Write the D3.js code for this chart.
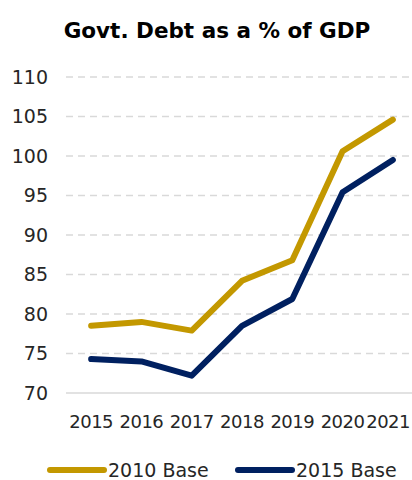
<!DOCTYPE html>
<html>
<head>
<meta charset="utf-8">
<script src="https://cdn.jsdelivr.net/npm/d3@7"></script>
<style>
  body { margin: 0; background: #fff; }
  text { font-family: "DejaVu Sans", sans-serif; fill: #262626; }
</style>
</head>
<body>
<div class="container"></div>
<script>
var years = ["2015", "2016", "2017", "2018", "2019", "2020", "2021"];
var base2010 = [78.5, 79.0, 77.9, 84.2, 86.8, 100.6, 104.6];
var base2015 = [74.3, 74.0, 72.2, 78.5, 81.9, 95.4, 99.5];
var yTicks = [70, 75, 80, 85, 90, 95, 100, 105, 110];
var seriesNames = ["2010 Base", "2015 Base"];
var seriesColors = ["#C39800", "#002060"];

var w = 412, h = 480;

function makeStage(w, h) {
	var stage = d3.select(".container")
				  .append("svg")
				  .attr("width", w)
				  .attr("height", h);
	return stage;
}

var stage = makeStage(w, h);

var x = d3.scaleBand().domain(years).range([66, 418]);
var y = d3.scaleLinear().domain([70, 110]).range([393, 77]);

// title
stage.append("text")
	 .attr("x", 217)
	 .attr("y", 38)
	 .attr("text-anchor", "middle")
	 .style("font-size", "21.5px")
	 .style("font-weight", "bold")
	 .style("fill", "#000")
	 .text("Govt. Debt as a % of GDP");

// gridlines
stage.selectAll("line.grid")
	 .data(yTicks)
	 .enter()
	 .append("line")
	 .attr("class", "grid")
	 .attr("x1", 66)
	 .attr("x2", 412)
	 .attr("y1", function (d) { return y(d); })
	 .attr("y2", function (d) { return y(d); })
	 .style("stroke", "#d9d9d9")
	 .style("stroke-width", "1.5px")
	 .style("stroke-dasharray", function (d) { return d === 70 ? null : "7,5"; });

// y axis labels
stage.selectAll("text.ytick")
	 .data(yTicks)
	 .enter()
	 .append("text")
	 .attr("class", "ytick")
	 .attr("x", 48)
	 .attr("y", function (d) { return y(d); })
	 .attr("dy", "0.36em")
	 .attr("text-anchor", "end")
	 .style("font-size", "19px")
	 .text(function (d) { return d; });

// x axis labels
stage.selectAll("text.xtick")
	 .data(years)
	 .enter()
	 .append("text")
	 .attr("class", "xtick")
	 .attr("x", function (d) { return x(d) + x.bandwidth() / 2; })
	 .attr("y", 428)
	 .attr("text-anchor", "middle")
	 .style("font-size", "18px")
	 .style("letter-spacing", "-0.5px")
	 .text(function (d) { return d; })
	 .each(function () {
		// keep the last label inside the picture
		var bb = this.getBBox();
		if (bb.x + bb.width > w - 2) {
			d3.select(this).attr("x", +d3.select(this).attr("x") - (bb.x + bb.width - (w - 2)));
		}
	 });

// lines
var line = d3.line()
	.x(function (d, i) { return x(years[i]) + x.bandwidth() / 2; })
	.y(function (d) { return y(d); });

[base2010, base2015].forEach(function (vals, i) {
	stage.append("path")
		 .datum(vals)
		 .attr("d", line)
		 .style("fill", "none")
		 .style("stroke", seriesColors[i])
		 .style("stroke-width", "6px")
		 .style("stroke-linecap", "round")
		 .style("stroke-linejoin", "round");
});

// legend
var legendX = [50, 238];
seriesNames.forEach(function (name, i) {
	stage.append("line")
		 .attr("x1", legendX[i])
		 .attr("x2", legendX[i] + 54)
		 .attr("y1", 470)
		 .attr("y2", 470)
		 .style("stroke", seriesColors[i])
		 .style("stroke-width", "6px")
		 .style("stroke-linecap", "round");
	stage.append("text")
		 .attr("x", legendX[i] + 58)
		 .attr("y", 470)
		 .attr("dy", "0.36em")
		 .style("font-size", "19px")
		 .text(name);
});
</script>
</body>
</html>
